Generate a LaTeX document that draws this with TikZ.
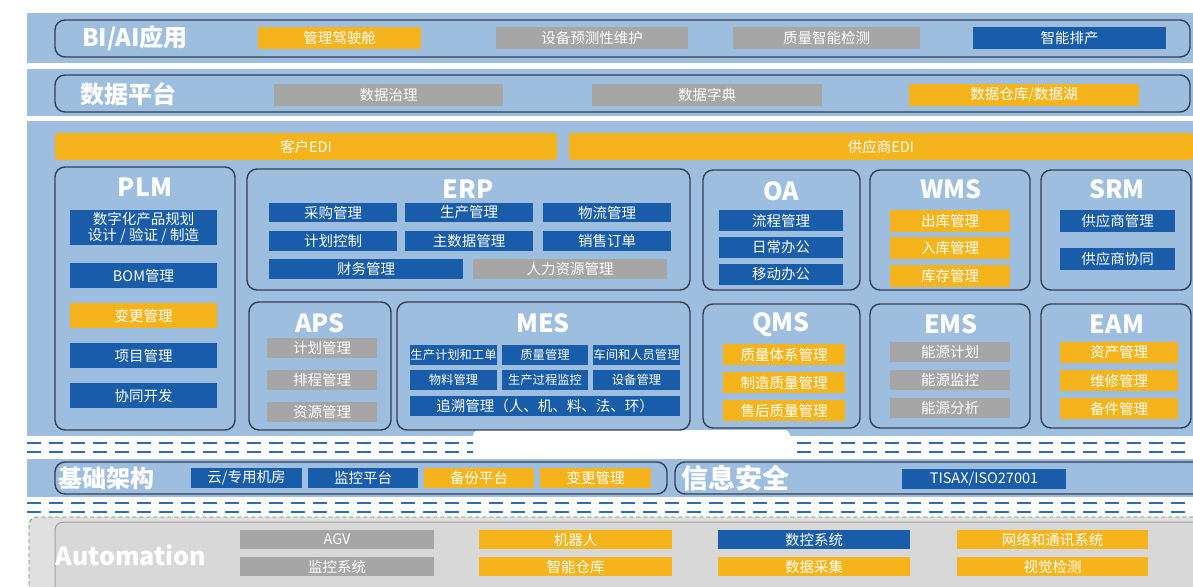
\documentclass[tikz,border=0pt]{standalone}
\usepackage{fontspec}
\setmainfont{Noto Sans CJK SC}
\definecolor{bandblue}{RGB}{158,190,224}
\definecolor{itemblue}{RGB}{24,92,170}
\definecolor{itemorange}{RGB}{246,180,28}
\definecolor{itemgray}{RGB}{166,166,166}
\definecolor{framec}{RGB}{52,64,80}
\definecolor{dashblue}{RGB}{46,108,180}
\definecolor{autogray}{RGB}{216,216,216}
\definecolor{autoedge}{RGB}{90,135,95}
\tikzset{
    frame/.style={draw=framec, line width=1.4pt, rounded corners=10pt, inner sep=0pt},
    itm/.style={text=white, inner sep=0pt, align=center, font=\fontsize{14.5}{16}\selectfont},
    bitem/.style={itm, fill=itemblue},
    oitem/.style={itm, fill=itemorange},
    gitem/.style={itm, fill=itemgray},
    edi/.style={oitem, rounded corners=3pt},
    mesitem/.style={font=\fontsize{12.3}{14}\selectfont},
    ttl/.style={text=white, inner sep=0pt, font=\bfseries\fontsize{25}{28}\selectfont},
    bigttl/.style={text=white, inner sep=0pt, font=\bfseries\fontsize{24}{28}\selectfont},
    sepline/.style={dashblue, line width=2.6pt, dash pattern=on 14pt off 8pt}
}
% box from (x1,y1) to (x2,y2)
\newcommand{\ibox}[7]{\node[#1, minimum width={#5-#3}, minimum height={#6-#4}] (#2) at ({(#3+#5)/2},{(#4+#6)/2}) {#7};}
\begin{document}
\begin{tikzpicture}[x=1pt,y=-1pt]
    \useasboundingbox (0,0) rectangle (1193,586);
    \clip (0,0) rectangle (1193,586);

    % bands
    \fill[bandblue] (27,13) rectangle (1193,63);
    \fill[bandblue] (27,69) rectangle (1193,116);
    \fill[bandblue] (27,121) rectangle (1193,436);
    \fill[bandblue] (27,459) rectangle (1193,497);

    % separators
    \draw[sepline] (27,443) -- (1193,443);
    \draw[sepline] (27,452) -- (1193,452);
    \fill[white, rounded corners=6pt] (473,430) rectangle (790,458);
    \draw[sepline] (27,503) -- (1193,503);
    \draw[sepline] (27,512) -- (1193,512);

    % automation area
    \draw[autoedge, fill=autogray!80, line width=0.8pt, dash pattern=on 4pt off 3pt, rounded corners=8pt] (29,517) rectangle (1210,610);
    \draw[gray!75, fill=autogray, line width=1pt, rounded corners=8pt] (55,522) rectangle (1210,610);

    % BI/AI
    \draw[frame] (55,20) rectangle (1190,57);
    \node[bigttl] (biT) at (135,38) {BI/AI应用};
    \ibox{oitem}{biA}{258}{27}{421}{49}{管理驾驶舱}
    \ibox{gitem}{biB}{496}{27}{688}{49}{设备预测性维护}
    \ibox{gitem}{biC}{733}{27}{920}{49}{质量智能检测}
    \ibox{bitem}{biD}{973}{27}{1166}{49}{智能排产}

    % data platform
    \draw[frame] (55,75) rectangle (1190,112);
    \node[bigttl] (dpT) at (128,94) {数据平台};
    \ibox{gitem}{dpA}{274}{84}{503}{106}{数据治理}
    \ibox{gitem}{dpB}{592}{84}{822}{106}{数据字典}
    \ibox{oitem}{dpC}{909}{84}{1139}{106}{数据仓库/数据湖}

    % EDI
    \ibox{edi}{ediA}{55}{133}{557}{160}{客户EDI}
    \ibox{edi}{ediB}{569}{133}{1193}{160}{供应商EDI}

    % PLM
    \ibox{frame}{plm}{55}{167}{235}{430}{}
    \node[ttl] (plmT) at (145,187) {PLM};
    \ibox{bitem}{plmA}{70}{210}{217}{245}{数字化产品规划\\设计 / 验证 / 制造}
    \ibox{bitem}{plmB}{70}{263}{217}{288}{BOM管理}
    \ibox{oitem}{plmC}{70}{303}{217}{328}{变更管理}
    \ibox{bitem}{plmD}{70}{343}{217}{368}{项目管理}
    \ibox{bitem}{plmE}{70}{383}{217}{408}{协同开发}

    % ERP
    \ibox{frame}{erp}{247}{169}{690}{290}{}
    \node[ttl] (erpT) at (468,189) {ERP};
    \ibox{bitem}{erpA}{269}{203}{397}{222}{采购管理}
    \ibox{bitem}{erpB}{405}{203}{533}{222}{生产管理}
    \ibox{bitem}{erpC}{543}{203}{671}{222}{物流管理}
    \ibox{bitem}{erpD}{269}{231}{397}{251}{计划控制}
    \ibox{bitem}{erpE}{405}{231}{533}{251}{主数据管理}
    \ibox{bitem}{erpF}{543}{231}{671}{251}{销售订单}
    \ibox{bitem}{erpG}{269}{259}{463}{279}{财务管理}
    \ibox{gitem}{erpH}{473}{259}{667}{279}{人力资源管理}

    % APS
    \ibox{frame}{aps}{249}{302}{391}{430}{}
    \node[ttl] (apsT) at (320,323) {APS};
    \ibox{gitem}{apsA}{267}{338}{377}{358}{计划管理}
    \ibox{gitem}{apsB}{267}{370}{377}{390}{排程管理}
    \ibox{gitem}{apsC}{267}{402}{377}{422}{资源管理}

    % MES
    \ibox{frame}{mes}{397}{302}{690}{430}{}
    \node[ttl] (mesT) at (543,323) {MES};
    \ibox{bitem,mesitem}{mesA}{410}{345}{497}{365}{生产计划和工单}
    \ibox{bitem,mesitem}{mesB}{502}{345}{588}{365}{质量管理}
    \ibox{bitem,mesitem}{mesC}{593}{345}{680}{365}{车间和人员管理}
    \ibox{bitem,mesitem}{mesD}{410}{370}{497}{390}{物料管理}
    \ibox{bitem,mesitem}{mesE}{502}{370}{588}{390}{生产过程监控}
    \ibox{bitem,mesitem}{mesF}{593}{370}{680}{390}{设备管理}
    \ibox{bitem}{mesG}{410}{396}{680}{416}{追溯管理（人、机、料、法、环）}

    % OA
    \ibox{frame}{oa}{703}{170}{860}{290}{}
    \node[ttl] (oaT) at (781,191) {OA};
    \ibox{bitem}{oaA}{719}{210}{843}{231}{流程管理}
    \ibox{bitem}{oaB}{719}{237}{843}{258}{日常办公}
    \ibox{bitem}{oaC}{719}{264}{843}{285}{移动办公}

    % WMS
    \ibox{frame}{wms}{870}{170}{1030}{290}{}
    \node[ttl] (wmsT) at (951,189) {WMS};
    \ibox{oitem}{wmsA}{890}{210}{1010}{232}{出库管理}
    \ibox{oitem}{wmsB}{890}{237}{1010}{259}{入库管理}
    \ibox{oitem}{wmsC}{890}{265}{1010}{287}{库存管理}

    % SRM
    \ibox{frame}{srm}{1041}{170}{1191}{290}{}
    \node[ttl] (srmT) at (1117,189) {SRM};
    \ibox{bitem}{srmA}{1060}{210}{1175}{232}{供应商管理}
    \ibox{bitem}{srmB}{1060}{248}{1175}{270}{供应商协同}

    % QMS
    \ibox{frame}{qms}{703}{304}{860}{428}{}
    \node[ttl] (qmsT) at (781,325) {QMS};
    \ibox{oitem}{qmsA}{723}{344}{845}{365}{质量体系管理}
    \ibox{oitem}{qmsB}{723}{372}{845}{393}{制造质量管理}
    \ibox{oitem}{qmsC}{723}{400}{845}{421}{售后质量管理}

    % EMS
    \ibox{frame}{ems}{870}{304}{1030}{428}{}
    \node[ttl] (emsT) at (951,324) {EMS};
    \ibox{gitem}{emsA}{890}{342}{1010}{362}{能源计划}
    \ibox{gitem}{emsB}{890}{370}{1010}{390}{能源监控}
    \ibox{gitem}{emsC}{890}{398}{1010}{418}{能源分析}

    % EAM
    \ibox{frame}{eam}{1041}{304}{1191}{428}{}
    \node[ttl] (eamT) at (1117,324) {EAM};
    \ibox{oitem}{eamA}{1060}{342}{1178}{363}{资产管理}
    \ibox{oitem}{eamB}{1060}{370}{1178}{391}{维修管理}
    \ibox{oitem}{eamC}{1060}{398}{1178}{419}{备件管理}

    % infrastructure / security
    \draw[frame] (55,462) rectangle (667,494);
    \node[bigttl] (infT) at (106,478) {基础架构};
    \ibox{bitem}{infA}{191}{468}{302}{488}{云/专用机房}
    \ibox{bitem}{infB}{308}{468}{418}{488}{监控平台}
    \ibox{oitem}{infC}{424}{468}{534}{488}{备份平台}
    \ibox{oitem}{infD}{540}{468}{651}{488}{变更管理}
    \draw[frame] (675,462) rectangle (1210,494);
    \node[bigttl, font=\bfseries\fontsize{27}{30}\selectfont] (secT) at (735,478) {信息安全};
    \ibox{bitem}{secA}{902}{469}{1066}{489}{TISAX/ISO27001}

    % automation
    \node[bigttl, font=\bfseries\fontsize{25}{28}\selectfont] (autT) at (131,555) {Automation};
    \ibox{gitem}{autA}{240}{530}{434}{549}{AGV}
    \ibox{gitem}{autB}{240}{557}{434}{576}{监控系统}
    \ibox{oitem}{autC}{479}{530}{672}{549}{机器人}
    \ibox{oitem}{autD}{479}{557}{672}{576}{智能仓库}
    \ibox{bitem}{autE}{718}{530}{910}{549}{数控系统}
    \ibox{oitem}{autF}{718}{557}{910}{576}{数据采集}
    \ibox{oitem}{autG}{957}{530}{1148}{549}{网络和通讯系统}
    \ibox{oitem}{autH}{957}{557}{1148}{576}{视觉检测}
\end{tikzpicture}
\end{document}
